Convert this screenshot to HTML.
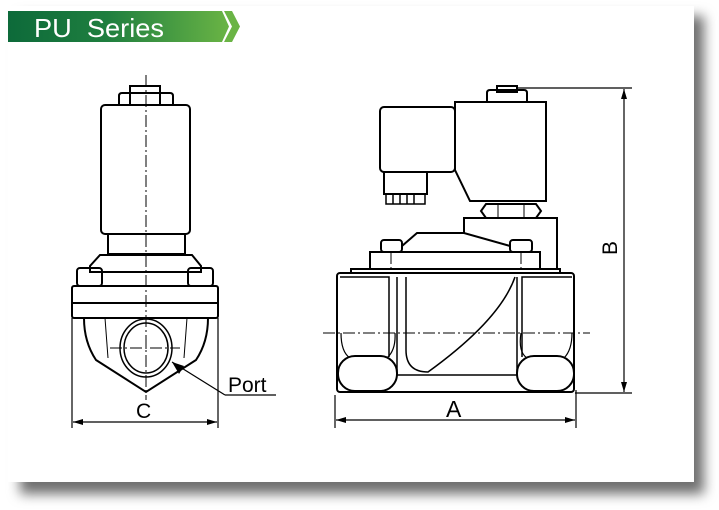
<!DOCTYPE html>
<html><head><meta charset="utf-8"><style>
html,body{margin:0;padding:0;background:#fff;}
body{width:719px;height:510px;overflow:hidden;position:relative;}
.sh{position:absolute;left:20px;top:16px;width:684px;height:478px;background:#6f6f6f;filter:blur(6px);}
.card{position:absolute;left:8px;top:6px;width:686px;height:476px;background:#fff;}
svg{position:absolute;left:0;top:0;}
text{font-family:"Liberation Sans",sans-serif;}
</style></head><body>
<div class="sh"></div><div class="card"></div>
<svg width="719" height="510" viewBox="0 0 719 510">
<defs>
<linearGradient id="g" x1="0" x2="1"><stop offset="0" stop-color="#0d6a3a"/><stop offset="0.45" stop-color="#1f7f3f"/><stop offset="1" stop-color="#6ab445"/></linearGradient>
<marker id="ar" viewBox="0 0 10 6" refX="10" refY="3" markerWidth="10" markerHeight="6" orient="auto-start-reverse" markerUnits="userSpaceOnUse"><path d="M0,0 L10,3 L0,6 z" fill="#000"/></marker>
</defs>
<polygon points="8,11 222,11 229,26.5 222,42 8,42" fill="url(#g)"/>
<polygon points="224,11 232,11 240,26.5 232,42 224,42 232,26.5" fill="#6ab445"/>
<text x="34" y="37" font-size="26" fill="#fff" textLength="130" lengthAdjust="spacingAndGlyphs">PU&#160;&#160;Series</text>

<g fill="none" stroke="#000" stroke-width="2">
<!-- left view -->
<rect x="130" y="86" width="30" height="19"/>
<path d="M119,105 V96 Q119,93 122,93 H170 Q173,93 173,96 V105"/>
<rect x="101" y="105" width="89" height="129" rx="4"/>
<rect x="108" y="234" width="77" height="20"/>
<path d="M100,255 H192 L201,266 V272 H90 V266 Z"/>
<rect x="77" y="268" width="25" height="18" rx="3"/>
<rect x="188" y="268" width="25" height="18" rx="3"/>
<rect x="72" y="286" width="146" height="32" rx="2"/>
<line x1="72" y1="303" x2="218" y2="303"/>
<path d="M84,318 Q84,342 96,360 L146,392 L196,360 Q208,342 208,318"/>
<line x1="105" y1="318" x2="108" y2="358" stroke-width="1"/>
<line x1="187" y1="318" x2="184" y2="358" stroke-width="1"/>
<ellipse cx="146" cy="348" rx="26" ry="29" stroke-width="1.5"/>
<ellipse cx="146" cy="348" rx="22" ry="25" stroke-width="1.5"/>
<!-- right view -->
<path d="M487,102 V93 Q487,90 490,90 H524 Q527,90 527,93 V102" stroke-width="2"/>
<rect x="497" y="86" width="20" height="6"/>
<path d="M455,102 H546 V201 H470 L455,170 Z"/>
<rect x="380" y="107" width="75" height="65" rx="4"/>
<rect x="384" y="172" width="43" height="22"/>
<rect x="386" y="194" width="39" height="10" stroke-width="1.5"/>
<path d="M393,195 v9 M400,195 v9 M407,195 v9 M414,195 v9" stroke-width="1.5"/>
<path d="M486,204 H536 L541,211 L536,218 H486 L481,211 Z"/>
<line x1="498" y1="204" x2="498" y2="218" stroke-width="1"/>
<line x1="524" y1="204" x2="524" y2="218" stroke-width="1"/>
<path d="M464,233 V218 H557 V269"/>
<path d="M402,246 L417,233 H464 L510,246"/>
<rect x="381" y="240" width="21" height="12" rx="3"/>
<rect x="510" y="240" width="22" height="12" rx="3"/>
<rect x="370" y="252" width="170" height="17"/>
<rect x="351" y="269" width="209" height="4"/>
<rect x="337" y="273" width="237" height="119" rx="3"/>
<path d="M397,277 V375 H517 V277" stroke-width="1.5"/>
<path d="M340,277 H389 V357" stroke-width="1.5"/>
<path d="M572,277 H522 V357" stroke-width="1.5"/>
<path d="M341,333 Q341,352 350,358 M387,358 Q396,350 395,333" stroke-width="1.2"/>
<path d="M521,333 Q518,352 527,358 M564,358 Q572,350 572,333" stroke-width="1.2"/>
<rect x="338" y="356" width="59" height="35" rx="17" fill="#fff"/>
<rect x="517" y="356" width="57" height="35" rx="17" fill="#fff"/>
<path d="M406,277 V350 Q406,372 428,372 Q500,320 515,277" stroke-width="1.5"/>
</g>
<!-- center lines -->
<g stroke="#000" stroke-width="1" stroke-dasharray="12,3,2,3" fill="none">
<line x1="146" y1="75" x2="146" y2="400"/>
<line x1="110" y1="348" x2="180" y2="348"/>
<line x1="323" y1="333" x2="590" y2="333"/>
<line x1="391" y1="252" x2="391" y2="273"/>
<line x1="521" y1="252" x2="521" y2="273"/>
</g>
<!-- dimensions -->
<g stroke="#000" stroke-width="1.2" fill="none">
<line x1="72" y1="318" x2="72" y2="428"/>
<line x1="218" y1="318" x2="218" y2="428"/>
<line x1="73" y1="422" x2="217" y2="422" marker-start="url(#ar)" marker-end="url(#ar)"/>
<line x1="335" y1="395" x2="335" y2="428"/>
<line x1="576" y1="390" x2="576" y2="428"/>
<line x1="336" y1="420" x2="575" y2="420" marker-start="url(#ar)" marker-end="url(#ar)"/>
<line x1="517" y1="88" x2="632" y2="88"/>
<line x1="575" y1="393" x2="632" y2="393"/>
<line x1="624" y1="89" x2="624" y2="392" marker-start="url(#ar)" marker-end="url(#ar)"/>
<line x1="172" y1="362" x2="225" y2="395"/>
<line x1="225" y1="395" x2="276" y2="395"/>
</g>
<polygon points="172,362 184,366 179,374" fill="#000"/>
<text x="228" y="392" font-size="21">Port</text>
<text x="136" y="418" font-size="21">C</text>
<text x="446" y="417" font-size="23">A</text>
<text x="0" y="0" font-size="21" transform="translate(617,255) rotate(-90)">B</text>
</svg>
</body></html>
